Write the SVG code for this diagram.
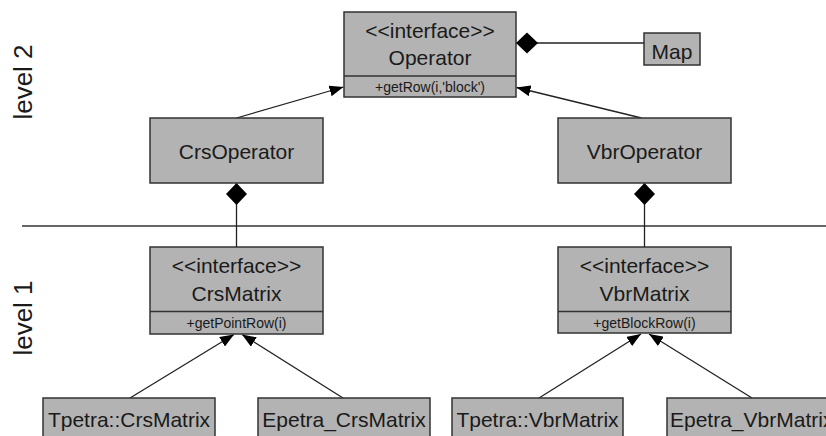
<svg xmlns="http://www.w3.org/2000/svg" width="826" height="436" viewBox="0 0 826 436">
  <style>
    .box { fill: #b3b3b3; stroke: #333; stroke-width: 1.5; }
    .div { stroke: #333; stroke-width: 1.5; }
    .t { font-family: "Liberation Sans", Arial, sans-serif; font-size: 21px; fill: #1a1a1a; text-anchor: middle; }
    .m { font-family: "Liberation Sans", Arial, sans-serif; font-size: 14px; fill: #1a1a1a; text-anchor: middle; }
    .lvl { font-family: "Liberation Sans", Arial, sans-serif; font-size: 26px; fill: #1a1a1a; text-anchor: middle; }
    .edge { stroke: #222; stroke-width: 1.3; fill: none; }
  </style>
  <defs>
    <!-- filled triangle head for realization arrows -->
    <marker id="tri" viewBox="0 0 14 11" refX="14" refY="5.5" markerWidth="14" markerHeight="11" markerUnits="userSpaceOnUse" orient="auto">
      <path d="M0,0 L14,5.5 L0,11 Z" fill="#000"/>
    </marker>
    <!-- filled diamond for composition, tip sits on the owner box -->
    <marker id="dia" viewBox="0 0 22 22" refX="22" refY="11" markerWidth="22" markerHeight="22" markerUnits="userSpaceOnUse" orient="auto">
      <path d="M0,11 L11,0.5 L22,11 L11,21.5 Z" fill="#000"/>
    </marker>
  </defs>
  <rect width="826" height="436" fill="#fff"/>

  <!-- level labels and separator -->
  <text class="lvl" transform="translate(32,82) rotate(-90)">level 2</text>
  <text class="lvl" transform="translate(32,318) rotate(-90)">level 1</text>
  <line x1="22" y1="226" x2="826" y2="226" stroke="#333" stroke-width="1.5"/>

  <!-- connectors -->
  <g id="connectors">
    <line class="edge" x1="644" y1="43" x2="516" y2="43" marker-end="url(#dia)"/>
    <line class="edge" x1="236.5" y1="118" x2="343.5" y2="87" marker-end="url(#tri)"/>
    <line class="edge" x1="641.5" y1="118" x2="516.5" y2="87.5" marker-end="url(#tri)"/>
    <line class="edge" x1="236.5" y1="247" x2="236.5" y2="183" marker-end="url(#dia)"/>
    <line class="edge" x1="644.5" y1="247" x2="644.5" y2="183" marker-end="url(#dia)"/>
    <line class="edge" x1="130" y1="398" x2="234" y2="334.5" marker-end="url(#tri)"/>
    <line class="edge" x1="343" y1="398" x2="242" y2="334.5" marker-end="url(#tri)"/>
    <line class="edge" x1="539" y1="398" x2="641" y2="334" marker-end="url(#tri)"/>
    <line class="edge" x1="752" y1="398" x2="649" y2="334" marker-end="url(#tri)"/>
  </g>

  <g id="operator">
    <rect class="box" x="344" y="12" width="172" height="85"/>
    <line class="div" x1="344" y1="76" x2="516" y2="76"/>
    <text class="t" x="430" y="38">&lt;&lt;interface&gt;&gt;</text>
    <text class="t" x="430" y="65">Operator</text>
    <text class="m" x="430" y="92">+getRow(i,'block')</text>
  </g>

  <g id="map">
    <rect class="box" x="644" y="33" width="56" height="32"/>
    <text class="t" x="672" y="59">Map</text>
  </g>

  <g id="crsoperator">
    <rect class="box" x="150" y="118" width="173" height="65"/>
    <text class="t" x="236.5" y="159">CrsOperator</text>
  </g>

  <g id="vbroperator">
    <rect class="box" x="558" y="118" width="173" height="65"/>
    <text class="t" x="644.5" y="159">VbrOperator</text>
  </g>

  <g id="crsmatrix">
    <rect class="box" x="150" y="247" width="173" height="87"/>
    <line class="div" x1="150" y1="311.5" x2="323" y2="311.5"/>
    <text class="t" x="236.5" y="273">&lt;&lt;interface&gt;&gt;</text>
    <text class="t" x="236.5" y="301">CrsMatrix</text>
    <text class="m" x="236.5" y="328">+getPointRow(i)</text>
  </g>

  <g id="vbrmatrix">
    <rect class="box" x="558" y="247" width="173" height="86"/>
    <line class="div" x1="558" y1="311.5" x2="731" y2="311.5"/>
    <text class="t" x="644.5" y="273">&lt;&lt;interface&gt;&gt;</text>
    <text class="t" x="644.5" y="301">VbrMatrix</text>
    <text class="m" x="644.5" y="328">+getBlockRow(i)</text>
  </g>

  <g id="tpetra-crsmatrix">
    <rect class="box" x="43" y="398" width="172" height="50"/>
    <text class="t" x="129" y="427">Tpetra::CrsMatrix</text>
  </g>

  <g id="epetra-crsmatrix">
    <rect class="box" x="258" y="398" width="172" height="50"/>
    <text class="t" x="344" y="427">Epetra_CrsMatrix</text>
  </g>

  <g id="tpetra-vbrmatrix">
    <rect class="box" x="452" y="398" width="171" height="50"/>
    <text class="t" x="537.5" y="427">Tpetra::VbrMatrix</text>
  </g>

  <g id="epetra-vbrmatrix">
    <rect class="box" x="667" y="398" width="172" height="50"/>
    <text class="t" x="670" y="427" style="text-anchor:start">Epetra_VbrMatrix</text>
  </g>
</svg>
